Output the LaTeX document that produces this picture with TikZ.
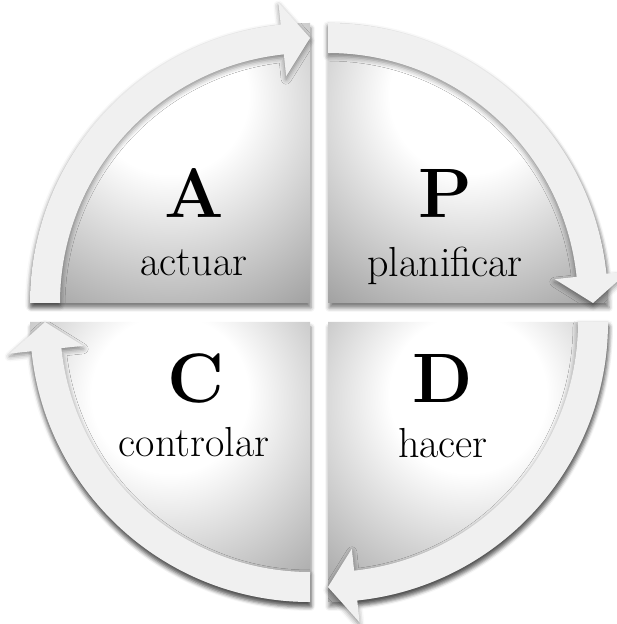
\documentclass[tikz,border=0pt]{standalone}
\usetikzlibrary{shadows.blur}

\pgfdeclareradialshading{quadlight}{\pgfpoint{0bp}{14bp}}{color(0bp)=(white); color(14bp)=(white); color(44bp)=(black!40); color(100bp)=(black!50)}

\begin{document}
\begin{tikzpicture}[x=1pt,y=1pt,
  quad/.style={shade,shading=quadlight,blur shadow={shadow xshift=1pt,shadow yshift=-5pt,shadow blur radius=4pt,shadow opacity=50}},
  band/.style={fill=black!6,blur shadow={shadow xshift=0pt,shadow yshift=-3pt,shadow blur radius=5pt,shadow opacity=45}},
  letter/.style={anchor=base,font=\fontsize{70}{70}\selectfont\bfseries},
  word/.style={anchor=base,font=\fontsize{42}{46}\selectfont}
]
\useasboundingbox (0,0) rectangle (616,624);
% A - actuar
\begin{scope}[shift={(310,321)}]
\shade[quad] (0,0) -- (180:280) arc[start angle=180,end angle=90,radius=280] -- cycle;
\fill[band] (180:280) arc[start angle=180,end angle=96,radius=280] -- (96:302) -- (90:265) -- (96:228) -- (96:250) arc[start angle=96,end angle=180,radius=250] -- cycle;
\end{scope}
% P - planificar
\begin{scope}[shift={(328,321)}]
\shade[quad] (0,0) -- (90:280) arc[start angle=90,end angle=0,radius=280] -- cycle;
\fill[band] (90:280) arc[start angle=90,end angle=6,radius=280] -- (6:302) -- (0:265) -- (6:228) -- (6:250) arc[start angle=6,end angle=90,radius=250] -- cycle;
\end{scope}
% D - hacer
\begin{scope}[shift={(328,302)}]
\shade[quad] (0,0) -- (0:280) arc[start angle=0,end angle=-90,radius=280] -- cycle;
\fill[band] (0:280) arc[start angle=0,end angle=-84,radius=280] -- (-84:302) -- (-90:265) -- (-84:228) -- (-84:250) arc[start angle=-84,end angle=0,radius=250] -- cycle;
\end{scope}
% C - controlar
\begin{scope}[shift={(310,302)}]
\shade[quad] (0,0) -- (270:280) arc[start angle=270,end angle=180,radius=280] -- cycle;
\fill[band] (270:280) arc[start angle=270,end angle=186,radius=280] -- (186:302) -- (180:265) -- (186:228) -- (186:250) arc[start angle=186,end angle=270,radius=250] -- cycle;
\end{scope}
\node[letter] (act) at (194,406) {A};
\node[word] (actw) at (194,348) {actuar};
\node[letter] (plan) at (445,406) {P};
\node[word] (planw) at (445,347) {planificar};
\node[letter] (chk) at (196,221) {C};
\node[word] (chkw) at (194,167) {controlar};
\node[letter] (do) at (443,221) {D};
\node[word] (dow) at (443,166) {hacer};
\end{tikzpicture}
\end{document}
